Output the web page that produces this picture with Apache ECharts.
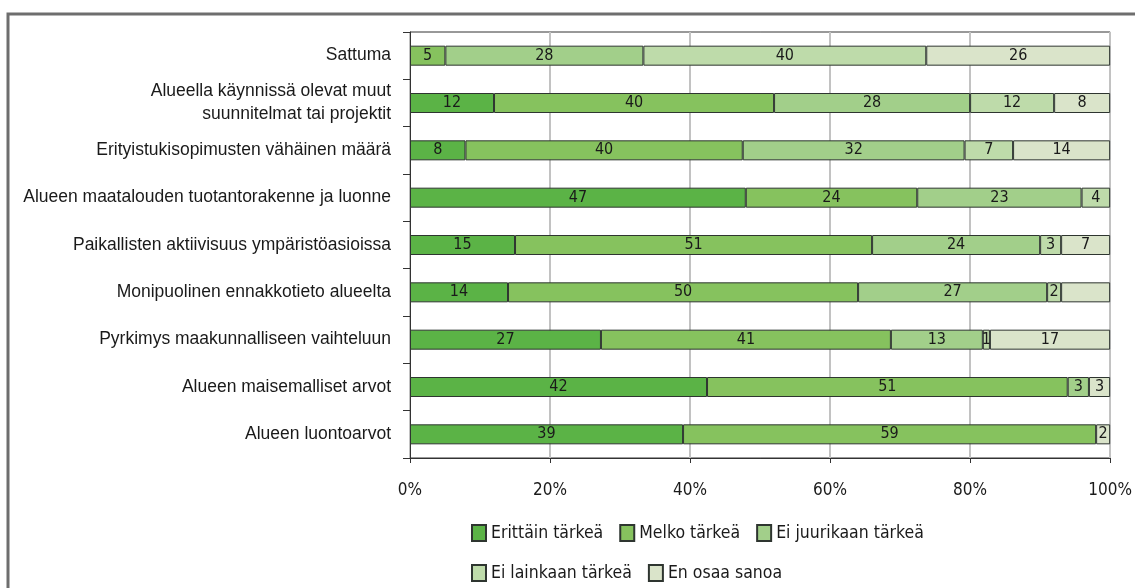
<!DOCTYPE html>
<html>
<head>
<meta charset="utf-8">
<script src="https://cdn.jsdelivr.net/npm/echarts@6/dist/echarts.min.js"></script>
<style>
    html, body { margin: 0; padding: 0; background: #fff; }
    #main { width: 1135px; height: 588px; }
</style>
</head>
<body>
<div id="main"></div>
<script>
var categories = [
    'Sattuma',
    'Alueella käynnissä olevat muut\nsuunnitelmat tai projektit',
    'Erityistukisopimusten vähäinen määrä',
    'Alueen maatalouden tuotantorakenne ja luonne',
    'Paikallisten aktiivisuus ympäristöasioissa',
    'Monipuolinen ennakkotieto alueelta',
    'Pyrkimys maakunnalliseen vaihteluun',
    'Alueen maisemalliset arvot',
    'Alueen luontoarvot'
];
var seriesNames = ['Erittäin tärkeä', 'Melko tärkeä', 'Ei juurikaan tärkeä', 'Ei lainkaan tärkeä', 'En osaa sanoa'];
var erittain = [0, 12, 8, 47, 15, 14, 27, 42, 39];
var melko = [5, 40, 40, 24, 51, 50, 41, 51, 59];
var eiJuurikaan = [28, 28, 32, 23, 24, 27, 13, 3, 0];
var eiLainkaan = [40, 12, 7, 4, 3, 2, 1, 0, 0];
var enOsaa = [26, 8, 14, 0, 7, 7, 17, 3, 2];
var xTicks = [0, 20, 40, 60, 80, 100];

var colors = ['#5bb346', '#86c25e', '#a2cf8a', '#bedbaa', '#dae4ca'];
var raw = [erittain, melko, eiJuurikaan, eiLainkaan, enOsaa];
var narrow = '"Liberation Sans Narrow", "DejaVu Sans Condensed", sans-serif';

// rivit skaalataan 100 %:iin, kuten alkuperäisessä kuvassa
var rowSum = categories.map(function (c, i) {
    return raw.reduce(function (s, arr) { return s + arr[i]; }, 0);
});

var myChart = echarts.init(document.getElementById('main'), null, { renderer: 'canvas' });

var series = raw.map(function (arr, k) {
    return {
        name: seriesNames[k],
        type: 'bar',
        stack: 'all',
        barWidth: 20,
        itemStyle: {
            color: colors[k],
            borderColor: '#2e3530',
            borderWidth: 1
        },
        label: {
            show: true,
            position: 'inside',
            color: '#1a1a1a',
            fontFamily: narrow,
            fontSize: 16,
            formatter: function (p) {
                var v = arr[p.dataIndex];
                return v ? String(v) : '';
            }
        },
        data: arr.map(function (v, i) {
            var item = { value: v ? v / rowSum[i] * 100 : '-' };
            // Monipuolinen ennakkotieto: viimeinen osa ilman lukua
            if (k === 4 && i === 5) item.label = { show: false };
            return item;
        })
    };
});

var legendText = { fontFamily: narrow, fontSize: 17.5, color: '#1a1a1a' };

var option = {
    animation: false,
    color: colors,
    graphic: [{
        type: 'rect',
        shape: { x: 8, y: 14, width: 1200, height: 700 },
        style: { fill: 'none', stroke: '#6e6e6e', lineWidth: 3 },
        silent: true
    }],
    grid: {
        left: 410,
        right: 24,
        top: 32,
        bottom: 130,
        show: true,
        borderColor: '#333',
        borderWidth: 1
    },
    legend: [{
        data: seriesNames.slice(0, 3),
        left: 466,
        top: 519,
        icon: 'rect',
        itemWidth: 14,
        itemHeight: 16,
        itemGap: 16,
        textStyle: legendText
    }, {
        data: seriesNames.slice(3),
        left: 466,
        top: 559,
        icon: 'rect',
        itemWidth: 14,
        itemHeight: 16,
        itemGap: 16,
        textStyle: legendText
    }],
    xAxis: {
        type: 'value',
        min: xTicks[0],
        max: xTicks[xTicks.length - 1],
        interval: 20,
        axisLine: { show: true, lineStyle: { color: '#333' } },
        axisTick: { show: true, length: 5, lineStyle: { color: '#333' } },
        splitLine: { show: true, lineStyle: { color: '#c2c2c2', width: 2 } },
        axisLabel: {
            formatter: '{value}%',
            margin: 24,
            fontFamily: narrow,
            fontSize: 17,
            color: '#1a1a1a'
        }
    },
    yAxis: {
        type: 'category',
        inverse: true,
        data: categories,
        axisLine: { show: true, lineStyle: { color: '#333' } },
        axisTick: { show: true, length: 7, lineStyle: { color: '#333' } },
        axisLabel: {
            margin: 19,
            fontFamily: '"Liberation Sans", Arial, sans-serif',
            fontSize: 17.5,
            lineHeight: 23,
            color: '#1a1a1a'
        }
    },
    series: series
};

myChart.setOption(option);
</script>
</body>
</html>
